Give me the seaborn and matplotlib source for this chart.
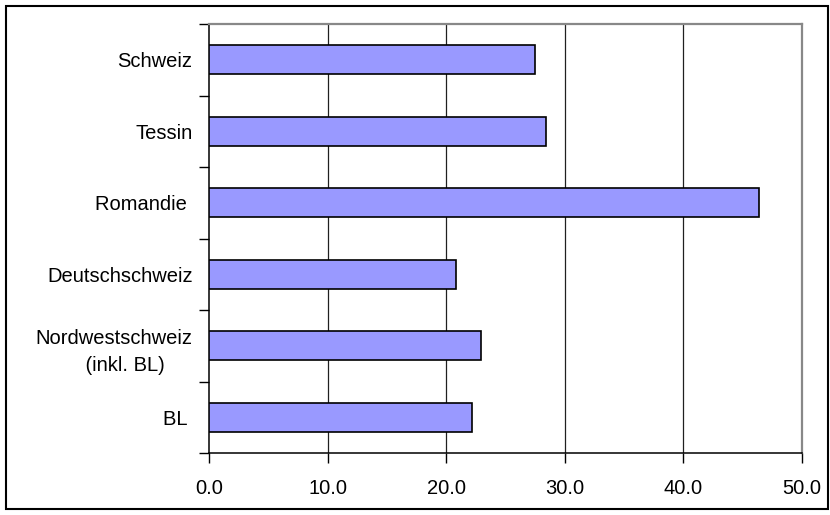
import matplotlib
matplotlib.use("Agg")
import matplotlib.pyplot as plt
from matplotlib.patches import Rectangle
from matplotlib.ticker import FixedLocator
import seaborn as sns
import pandas as pd

regions = ["Schweiz", "Tessin", "Romandie ", "Deutschschweiz",
           "Nordwestschweiz\n    (inkl. BL)", "BL "]
values = [27.5, 28.4, 46.4, 20.8, 22.9, 22.2]
x_ticks = [0, 10, 20, 30, 40, 50]
x_tick_labels = ["0.0", "10.0", "20.0", "30.0", "40.0", "50.0"]

sns.set_theme(style="white")
plt.rcParams["font.family"] = ["Liberation Sans", "DejaVu Sans"]

df = pd.DataFrame({"region": regions, "value": values})

fig = plt.figure(figsize=(8.3, 5.15), dpi=100)
W, H = 830, 515
ax = fig.add_axes([209.3 / W, 1 - 453 / H, (802 - 209.3) / W, (453 - 24) / H])

sns.barplot(data=df, x="value", y="region", orient="h", width=0.4,
            color="#9999FF", saturation=1, edgecolor="black", linewidth=1.2,
            ax=ax, zorder=3)

ax.set_xlim(0, 50)
ax.set_ylim(len(regions) - 0.5, -0.5)
ax.set_xlabel("")
ax.set_ylabel("")

# x axis
ax.set_xticks(x_ticks)
ax.set_xticklabels(x_tick_labels, fontsize=14.5, color="black")
ax.tick_params(axis="x", direction="out", length=7, width=1, color="black", pad=12, bottom=True)

# y axis: ticks on category boundaries, labels at category centres
ax.yaxis.set_major_locator(FixedLocator([i - 0.5 for i in range(len(regions) + 1)]))
ax.yaxis.set_minor_locator(FixedLocator(list(range(len(regions)))))
ax.set_yticklabels([], minor=False)
ax.set_yticklabels(regions, minor=True, fontsize=14.5, color="black",
                   multialignment="center", linespacing=1.55)
ax.tick_params(axis="y", which="major", direction="out", length=7, width=1, color="black", left=True)
ax.tick_params(axis="y", which="minor", length=0, pad=12, left=True)

# vertical gridlines
for xv in x_ticks[1:-1]:
    ax.axvline(xv, color="#202020", linewidth=0.9, zorder=1)

for side in ["left", "bottom"]:
    ax.spines[side].set_color("black")
    ax.spines[side].set_linewidth(1.1)
for side in ["top", "right"]:
    ax.spines[side].set_color("#888888")
    ax.spines[side].set_linewidth(1.6)
    ax.spines[side].set_visible(True)

# outer chart frame
fig.patches.append(Rectangle((6 / W, 1 - 509 / H), (828 - 6) / W, (509 - 6) / H,
                             transform=fig.transFigure, fill=False,
                             edgecolor="black", linewidth=1.5))

fig.savefig("out.png", dpi=100)
